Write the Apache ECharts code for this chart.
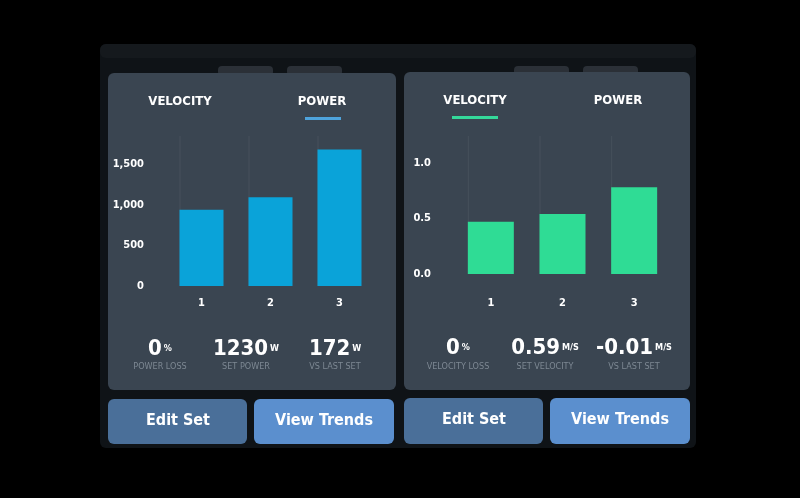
<!DOCTYPE html>
<html><head><meta charset="utf-8">
<script src="https://cdn.jsdelivr.net/npm/echarts@6/dist/echarts.min.js"></script>
<style>html,body{margin:0;background:#000}#c{width:800px;height:498px}</style></head>
<body><div id="c"></div>
<script>
const categories = ['1','2','3'];
const powerValues = [940, 1095, 1685];
const velocityValues = [0.47, 0.54, 0.78];
const powerTicks = [0, 500, 1000, 1500];
const velocityTicks = [0.0, 0.5, 1.0];
const powerGuide = [1850, 1850, 1850];
const velocityGuide = [1.24, 1.24, 1.24];

const F = "'Liberation Sans Narrow','DejaVu Sans Condensed',sans-serif";
const panel = '#3a4551';
function rect(x,y,w,h,fill,r){return {type:'rect',shape:{x,y,width:w,height:h,r:r||6},style:{fill},z:-10,silent:true};}
function txt(x,y,t,size,color,align,weight){return {type:'text',x,y,style:{text:t,font:(weight||'bold')+' '+size+'px '+F,fill:color,textAlign:align||'center',textVerticalAlign:'middle'},z:10};}
function rich(x,y,big,unit){return {type:'text',x,y,style:{text:'{b|'+big+'}{u|'+unit+'}',textAlign:'center',textVerticalAlign:'bottom',rich:{b:{font:'bold 22px '+F,fill:'#fff'},u:{font:'bold 9px '+F,fill:'#fff',padding:[0,0,0,2]}}},z:10};}

const graphics = [
 rect(100,44,596,404,'#0f1317',0),
 rect(100,44,596,14,'#15191d',0),
 rect(218,66,55,10,'#2b3037',4), rect(287,66,55,10,'#2b3037',4),
 rect(514,66,55,10,'#2b3037',4), rect(583,66,55,10,'#2b3037',4),
 rect(108,73,288,317,panel,6), rect(404,72,286,318,panel,6),
 rect(108,399,139,45,'#4a6f99',6), rect(254,399,140,45,'#5b8fce',6),
 rect(404,398,139,46,'#4a6f99',6), rect(550,398,140,46,'#5b8fce',6),
 txt(180,102,'VELOCITY',13,'#fff'), txt(322,102,'POWER',13,'#fff'),
 {type:'rect',shape:{x:305,y:117,width:36,height:3},style:{fill:'#4ea3dc'},z:10},
 txt(475,101,'VELOCITY',13,'#fff'), txt(618,101,'POWER',13,'#fff'),
 {type:'rect',shape:{x:452,y:116,width:46,height:3},style:{fill:'#34d89a'},z:10},
 rich(160,360,'0','%'), rich(246,360,'1230','W'), rich(335,360,'172','W'),
 txt(160,367,'POWER LOSS',9,'#7d8893','center','normal'),
 txt(246,367,'SET POWER',9,'#7d8893','center','normal'),
 txt(335,367,'VS LAST SET',9,'#7d8893','center','normal'),
 rich(458,359,'0','%'), rich(545,359,'0.59','M/S'), rich(634,359,'-0.01','M/S'),
 txt(458,367,'VELOCITY LOSS',9,'#7d8893','center','normal'),
 txt(545,367,'SET VELOCITY',9,'#7d8893','center','normal'),
 txt(634,367,'VS LAST SET',9,'#7d8893','center','normal'),
 txt(178,421,'Edit Set',16,'#fff'), txt(324,421,'View Trends',16,'#fff'),
 txt(474,420,'Edit Set',16,'#fff'), txt(620,420,'View Trends',16,'#fff')
];

const axisLbl = {color:'#fff',fontFamily:F,fontWeight:'bold',fontSize:11};
const chart = echarts.init(document.getElementById('c'));
chart.setOption({
 backgroundColor:'#000',
 animation:false,
 graphic:graphics,
 grid:[{left:167,top:136,width:207,height:150},{left:455,top:136,width:215,height:138}],
 xAxis:[
  {gridIndex:0,type:'category',data:categories,axisLine:{show:false},axisTick:{show:false},axisLabel:Object.assign({margin:12},axisLbl)},
  {gridIndex:1,type:'category',data:categories,axisLine:{show:false},axisTick:{show:false},axisLabel:Object.assign({margin:24},axisLbl)}
 ],
 yAxis:[
  {gridIndex:0,type:'value',min:0,max:1850,interval:500,splitLine:{show:false},
   axisLabel:Object.assign({margin:23,formatter:v=>powerTicks.includes(v)?v.toLocaleString('en-US'):''},axisLbl)},
  {gridIndex:1,type:'value',min:0,max:1.24,interval:0.5,splitLine:{show:false},
   axisLabel:Object.assign({margin:24,formatter:v=>velocityTicks.includes(v)?v.toFixed(1):''},axisLbl)}
 ],
 series:[
  {type:'bar',xAxisIndex:0,yAxisIndex:0,data:powerGuide,barWidth:1,itemStyle:{color:'#46515c'},z:1},
  {type:'bar',xAxisIndex:0,yAxisIndex:0,data:powerValues,barWidth:44,barGap:'-100%',itemStyle:{color:'#0aa3d9'},z:2},
  {type:'bar',xAxisIndex:1,yAxisIndex:1,data:velocityGuide,barWidth:1,itemStyle:{color:'#46515c'},z:1},
  {type:'bar',xAxisIndex:1,yAxisIndex:1,data:velocityValues,barWidth:46,barGap:'-100%',itemStyle:{color:'#2fdc95'},z:2}
 ]
});
</script></body></html>
